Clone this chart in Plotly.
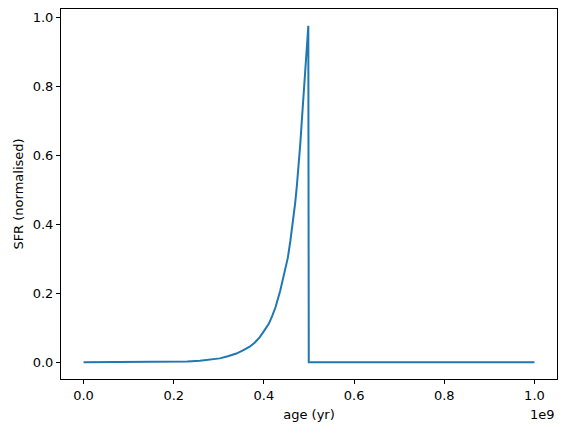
import plotly.graph_objects as go

# star formation history (age in yr, SFR normalised)
age_yr = [0.0, 0.1e9, 0.15e9, 0.2e9, 0.23e9, 0.258e9, 0.28e9, 0.302e9,
          0.32e9, 0.3389e9, 0.3535e9, 0.3684e9, 0.38e9, 0.3905e9, 0.40e9,
          0.4111e9, 0.4185e9, 0.4259e9, 0.4363e9, 0.4447e9, 0.4531e9,
          0.4587e9, 0.4642e9, 0.4694e9, 0.473e9, 0.4768e9, 0.4805e9,
          0.4841e9, 0.4882e9, 0.4925e9, 0.4962e9, 0.4985e9,
          0.4995e9, 1.0e9]
sfr_norm = [0.0, 0.0001, 0.0003, 0.001, 0.002, 0.004, 0.007, 0.011,
            0.017, 0.025, 0.034, 0.045, 0.057, 0.072, 0.090,
            0.112, 0.134, 0.160, 0.208, 0.252, 0.303,
            0.352, 0.402, 0.462, 0.51, 0.565, 0.63,
            0.70, 0.78, 0.87, 0.935, 0.975,
            0.0, 0.0]

x_ticks = [0.0, 0.2e9, 0.4e9, 0.6e9, 0.8e9, 1.0e9]
x_tick_text = ["0.0", "0.2", "0.4", "0.6", "0.8", "1.0"]
y_ticks = [0.0, 0.2, 0.4, 0.6, 0.8, 1.0]
y_tick_text = ["0.0", "0.2", "0.4", "0.6", "0.8", "1.0"]

FONT = "DejaVu Sans, Liberation Sans, sans-serif"

fig = go.Figure()
fig.add_trace(go.Scatter(
    x=age_yr, y=sfr_norm, mode="lines",
    line=dict(color="#1f77b4", width=2),
    showlegend=False,
))

axis_style = dict(
    showline=True, linecolor="black", linewidth=1, mirror=True,
    ticks="outside", ticklen=4, tickwidth=1, tickcolor="black",
    showgrid=False, zeroline=False, automargin=False,
    tickfont=dict(family=FONT, size=13, color="black"),
)

# page body adds an 8px offset, so the figure is 8px smaller than the window
fig.update_layout(
    width=559, height=424,
    margin=dict(l=53, r=10, t=1, b=53),
    paper_bgcolor="white", plot_bgcolor="white",
    font=dict(family=FONT, size=13, color="black"),
)
fig.update_xaxes(
    range=[-0.05e9, 1.05e9], tickvals=x_ticks, ticktext=x_tick_text,
    title=dict(text="age (yr)", font=dict(family=FONT, size=13), standoff=8),
    **axis_style,
)
fig.update_yaxes(
    range=[-0.04875, 1.02375], tickvals=y_ticks, ticktext=y_tick_text,
    title=dict(text="SFR (normalised)", font=dict(family=FONT, size=13), standoff=6),
    **axis_style,
)
fig.add_annotation(
    text="1e9", xref="paper", yref="paper", x=1.0, y=0, yshift=-26,
    xanchor="right", yanchor="top", showarrow=False,
    font=dict(family=FONT, size=13, color="black"),
)

fig.write_html("out.html")
